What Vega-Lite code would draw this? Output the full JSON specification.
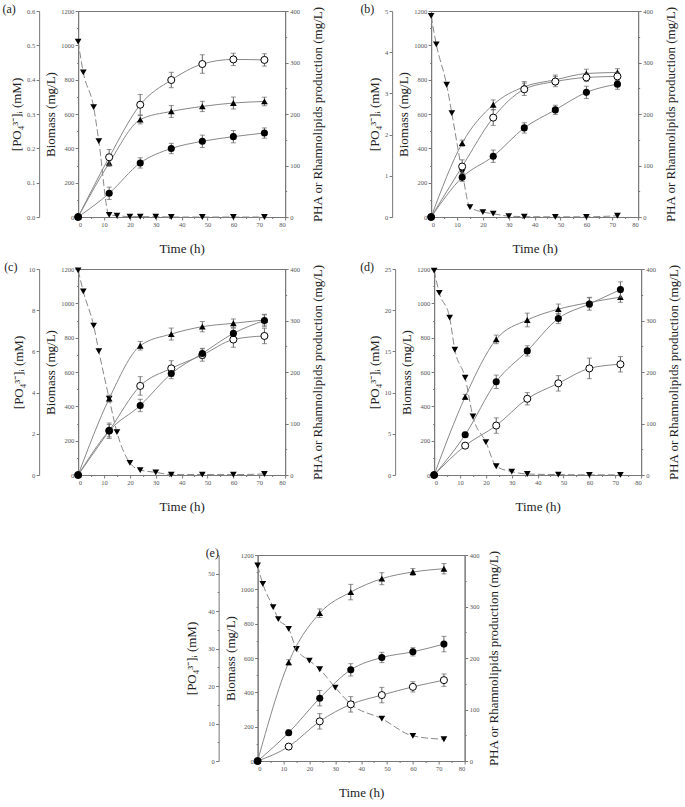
{
  "$schema": "https://vega.github.io/schema/vega-lite/v6.json",
  "padding": {"left": 2, "top": 2, "right": 2, "bottom": 2},
  "config": {
    "font": "Liberation Serif",
    "view": {"stroke": "#777", "strokeWidth": 1},
    "axis": {"labelFont": "Liberation Serif", "labelFontSize": 6.5, "labelColor": "#555", "titleFont": "Liberation Serif", "titleFontSize": 13, "titleFontWeight": "normal", "titleColor": "#222", "domainColor": "#777", "tickColor": "#777", "grid": false, "labelPadding": 1.5},
    "title": {"font": "Liberation Serif", "fontSize": 12, "fontWeight": "normal", "color": "#222", "anchor": "start", "frame": "bounds", "offset": -10}
  },
  "data": {"values": [
    {"p":"a","s":"PO4","t":0,"v":0.511},{"p":"a","s":"PO4","t":2,"v":0.421},{"p":"a","s":"PO4","t":6,"v":0.32},{"p":"a","s":"PO4","t":8,"v":0.221},{"p":"a","s":"PO4","t":12,"v":0.006},{"p":"a","s":"PO4","t":15,"v":0.004},{"p":"a","s":"PO4","t":20,"v":0.001},{"p":"a","s":"PO4","t":24,"v":0.001},{"p":"a","s":"PO4","t":30,"v":0.001},{"p":"a","s":"PO4","t":36,"v":0},{"p":"a","s":"PO4","t":48,"v":0},{"p":"a","s":"PO4","t":60,"v":0},{"p":"a","s":"PO4","t":72,"v":0},
    {"p":"a","s":"B","t":0,"v":0,"e":0},{"p":"a","s":"B","t":12,"v":315,"e":20},{"p":"a","s":"B","t":24,"v":567,"e":25},{"p":"a","s":"B","t":36,"v":615,"e":35},{"p":"a","s":"B","t":48,"v":644,"e":30},{"p":"a","s":"B","t":60,"v":664,"e":35},{"p":"a","s":"B","t":72,"v":673,"e":25},
    {"p":"a","s":"R","t":0,"v":0,"e":0},{"p":"a","s":"R","t":12,"v":116,"e":15},{"p":"a","s":"R","t":24,"v":218,"e":20},{"p":"a","s":"R","t":36,"v":266,"e":15},{"p":"a","s":"R","t":48,"v":297,"e":18},{"p":"a","s":"R","t":60,"v":306,"e":12},{"p":"a","s":"R","t":72,"v":305,"e":12},
    {"p":"a","s":"P","t":0,"v":0,"e":0},{"p":"a","s":"P","t":12,"v":46,"e":12},{"p":"a","s":"P","t":24,"v":105,"e":10},{"p":"a","s":"P","t":36,"v":133,"e":10},{"p":"a","s":"P","t":48,"v":147,"e":12},{"p":"a","s":"P","t":60,"v":156,"e":12},{"p":"a","s":"P","t":72,"v":163,"e":10},

    {"p":"b","s":"PO4","t":0,"v":4.88},{"p":"b","s":"PO4","t":2,"v":4.19},{"p":"b","s":"PO4","t":6,"v":3.21},{"p":"b","s":"PO4","t":8,"v":2.52},{"p":"b","s":"PO4","t":12,"v":1.09},{"p":"b","s":"PO4","t":15,"v":0.24},{"p":"b","s":"PO4","t":20,"v":0.12},{"p":"b","s":"PO4","t":24,"v":0.08},{"p":"b","s":"PO4","t":30,"v":0.02},{"p":"b","s":"PO4","t":36,"v":0.01},{"p":"b","s":"PO4","t":48,"v":0.005},{"p":"b","s":"PO4","t":60,"v":0.005},{"p":"b","s":"PO4","t":72,"v":0.03},
    {"p":"b","s":"B","t":0,"v":0,"e":0},{"p":"b","s":"B","t":12,"v":430,"e":18},{"p":"b","s":"B","t":24,"v":654,"e":28},{"p":"b","s":"B","t":36,"v":759,"e":30},{"p":"b","s":"B","t":48,"v":799,"e":28},{"p":"b","s":"B","t":60,"v":836,"e":25},{"p":"b","s":"B","t":72,"v":842,"e":22},
    {"p":"b","s":"R","t":0,"v":0,"e":0},{"p":"b","s":"R","t":12,"v":98,"e":13},{"p":"b","s":"R","t":24,"v":193,"e":15},{"p":"b","s":"R","t":36,"v":248,"e":12},{"p":"b","s":"R","t":48,"v":263,"e":10},{"p":"b","s":"R","t":60,"v":271,"e":8},{"p":"b","s":"R","t":72,"v":273,"e":8},
    {"p":"b","s":"P","t":0,"v":0,"e":0},{"p":"b","s":"P","t":12,"v":77,"e":8},{"p":"b","s":"P","t":24,"v":118,"e":12},{"p":"b","s":"P","t":36,"v":173,"e":10},{"p":"b","s":"P","t":48,"v":208,"e":9},{"p":"b","s":"P","t":60,"v":242,"e":12},{"p":"b","s":"P","t":72,"v":258,"e":10},

    {"p":"c","s":"PO4","t":0,"v":9.93},{"p":"c","s":"PO4","t":2,"v":8.91},{"p":"c","s":"PO4","t":6,"v":7.25},{"p":"c","s":"PO4","t":8,"v":6.01},{"p":"c","s":"PO4","t":12,"v":3.71},{"p":"c","s":"PO4","t":15,"v":2.08},{"p":"c","s":"PO4","t":20,"v":0.59},{"p":"c","s":"PO4","t":24,"v":0.24},{"p":"c","s":"PO4","t":30,"v":0.13},{"p":"c","s":"PO4","t":36,"v":0.02},{"p":"c","s":"PO4","t":48,"v":0.02},{"p":"c","s":"PO4","t":60,"v":0.02},{"p":"c","s":"PO4","t":72,"v":0.05},
    {"p":"c","s":"B","t":0,"v":0,"e":0},{"p":"c","s":"B","t":12,"v":445,"e":20},{"p":"c","s":"B","t":24,"v":753,"e":25},{"p":"c","s":"B","t":36,"v":821,"e":35},{"p":"c","s":"B","t":48,"v":864,"e":30},{"p":"c","s":"B","t":60,"v":884,"e":25},{"p":"c","s":"B","t":72,"v":903,"e":30},
    {"p":"c","s":"R","t":0,"v":0,"e":0},{"p":"c","s":"R","t":12,"v":86,"e":15},{"p":"c","s":"R","t":24,"v":173,"e":18},{"p":"c","s":"R","t":36,"v":207,"e":15},{"p":"c","s":"R","t":48,"v":233,"e":12},{"p":"c","s":"R","t":60,"v":263,"e":15},{"p":"c","s":"R","t":72,"v":270,"e":15},
    {"p":"c","s":"P","t":0,"v":0,"e":0},{"p":"c","s":"P","t":12,"v":86,"e":12},{"p":"c","s":"P","t":24,"v":135,"e":12},{"p":"c","s":"P","t":36,"v":197,"e":10},{"p":"c","s":"P","t":48,"v":236,"e":10},{"p":"c","s":"P","t":60,"v":275,"e":10},{"p":"c","s":"P","t":72,"v":300,"e":12},

    {"p":"d","s":"PO4","t":0,"v":24.8},{"p":"d","s":"PO4","t":2,"v":22.1},{"p":"d","s":"PO4","t":6,"v":19.1},{"p":"d","s":"PO4","t":8,"v":15.2},{"p":"d","s":"PO4","t":12,"v":11.8},{"p":"d","s":"PO4","t":15,"v":7.1},{"p":"d","s":"PO4","t":20,"v":4.0},{"p":"d","s":"PO4","t":24,"v":1.06},{"p":"d","s":"PO4","t":30,"v":0.41},{"p":"d","s":"PO4","t":36,"v":0.12},{"p":"d","s":"PO4","t":48,"v":0.05},{"p":"d","s":"PO4","t":60,"v":0.02},{"p":"d","s":"PO4","t":72,"v":0.02},
    {"p":"d","s":"B","t":0,"v":0,"e":0},{"p":"d","s":"B","t":12,"v":455,"e":15},{"p":"d","s":"B","t":24,"v":790,"e":25},{"p":"d","s":"B","t":36,"v":903,"e":40},{"p":"d","s":"B","t":48,"v":966,"e":30},{"p":"d","s":"B","t":60,"v":1005,"e":30},{"p":"d","s":"B","t":72,"v":1036,"e":30},
    {"p":"d","s":"P","t":0,"v":0,"e":0},{"p":"d","s":"P","t":12,"v":78,"e":5},{"p":"d","s":"P","t":24,"v":181,"e":13},{"p":"d","s":"P","t":36,"v":241,"e":10},{"p":"d","s":"P","t":48,"v":304,"e":10},{"p":"d","s":"P","t":60,"v":332,"e":12},{"p":"d","s":"P","t":72,"v":360,"e":15},
    {"p":"d","s":"R","t":0,"v":0,"e":0},{"p":"d","s":"R","t":12,"v":57,"e":5},{"p":"d","s":"R","t":24,"v":96,"e":15},{"p":"d","s":"R","t":36,"v":148,"e":12},{"p":"d","s":"R","t":48,"v":178,"e":15},{"p":"d","s":"R","t":60,"v":207,"e":20},{"p":"d","s":"R","t":72,"v":215,"e":15},

    {"p":"e","s":"PO4","t":0,"v":52.2},{"p":"e","s":"PO4","t":2,"v":47.3},{"p":"e","s":"PO4","t":6,"v":41.1},{"p":"e","s":"PO4","t":8,"v":37.9},{"p":"e","s":"PO4","t":12,"v":35.3},{"p":"e","s":"PO4","t":15,"v":29.9},{"p":"e","s":"PO4","t":20,"v":26.8},{"p":"e","s":"PO4","t":24,"v":24.5},{"p":"e","s":"PO4","t":30,"v":19.6},{"p":"e","s":"PO4","t":36,"v":15.2},{"p":"e","s":"PO4","t":48,"v":11.3},{"p":"e","s":"PO4","t":60,"v":6.7},{"p":"e","s":"PO4","t":72,"v":5.8},
    {"p":"e","s":"B","t":0,"v":0,"e":0},{"p":"e","s":"B","t":12,"v":575,"e":15},{"p":"e","s":"B","t":24,"v":861,"e":25},{"p":"e","s":"B","t":36,"v":984,"e":45},{"p":"e","s":"B","t":48,"v":1062,"e":35},{"p":"e","s":"B","t":60,"v":1101,"e":20},{"p":"e","s":"B","t":72,"v":1120,"e":30},
    {"p":"e","s":"P","t":0,"v":0,"e":0},{"p":"e","s":"P","t":12,"v":55,"e":5},{"p":"e","s":"P","t":24,"v":122,"e":15},{"p":"e","s":"P","t":36,"v":177,"e":12},{"p":"e","s":"P","t":48,"v":201,"e":10},{"p":"e","s":"P","t":60,"v":212,"e":8},{"p":"e","s":"P","t":72,"v":227,"e":15},
    {"p":"e","s":"R","t":0,"v":0,"e":0},{"p":"e","s":"R","t":12,"v":28,"e":5},{"p":"e","s":"R","t":24,"v":77,"e":15},{"p":"e","s":"R","t":36,"v":110,"e":15},{"p":"e","s":"R","t":48,"v":128,"e":15},{"p":"e","s":"R","t":60,"v":144,"e":10},{"p":"e","s":"R","t":72,"v":157,"e":12}
  ]},
  "spacing": 32,
  "center": true,
  "vconcat": [
    {
      "spacing": 4,
      "vconcat": [
        {
          "spacing": 34,
          "hconcat": [
            {
              "width": 207, "height": 206,
              "title": {"text": "(a)", "dx": -8},
              "transform": [{"filter": "datum.p === 'a'"}],
              "encoding": {"x": {"field": "t", "type": "quantitative", "scale": {"domain": [0, 80], "nice": false}, "axis": {"title": "Time (h)", "values": [0,5,10,15,20,25,30,35,40,45,50,55,60,65,70,75,80], "labelExpr": "datum.value % 10 === 0 ? datum.label : ''", "tickSize": {"condition": {"test": "datum.value % 10 === 0", "value": 3}, "value": 1.5}, "titlePadding": 14}}},
              "layer": [
                {
                  "transform": [{"filter": "datum.s === 'PO4'"}],
                  "encoding": {"y": {"field": "v", "type": "quantitative", "scale": {"domain": [0, 0.6], "nice": false}, "axis": {"orient": "left", "offset": 39, "title": "[PO₄³⁻]ᵢ (mM)", "values": [0,0.1,0.2,0.3,0.4,0.5,0.6], "format": ".1f", "tickSize": 3, "titlePadding": 3}}},
                  "layer": [
                    {"mark": {"type": "line", "interpolate": "monotone", "color": "#888", "strokeWidth": 1, "strokeDash": [7, 3]}},
                    {"mark": {"type": "point", "shape": "triangle-down", "filled": true, "color": "#000", "opacity": 1, "size": 45}}
                  ]
                },
                {
                  "transform": [{"filter": "datum.s === 'B'"}],
                  "encoding": {"y": {"field": "v", "type": "quantitative", "scale": {"domain": [0, 1200], "nice": false}, "axis": {"orient": "left", "title": "Biomass (mg/L)", "format": "d", "values": [0,100,200,300,400,500,600,700,800,900,1000,1100,1200], "labelExpr": "datum.value % 200 === 0 ? datum.label : ''", "tickSize": {"condition": {"test": "datum.value % 200 === 0", "value": 3}, "value": 1.5}, "titlePadding": 3}}},
                  "layer": [
                    {"mark": {"type": "line", "interpolate": "monotone", "color": "#888", "strokeWidth": 1}},
                    {"transform": [{"filter": "datum.e > 0"}], "mark": {"type": "errorbar", "ticks": {"size": 5}, "color": "#666"}, "encoding": {"yError": {"field": "e"}}},
                    {"mark": {"type": "point", "shape": "triangle-up", "filled": true, "color": "#000", "opacity": 1, "size": 45}}
                  ]
                },
                {
                  "transform": [{"filter": "datum.s === 'P' || datum.s === 'R'"}],
                  "encoding": {"y": {"field": "v", "type": "quantitative", "scale": {"domain": [0, 400], "nice": false}, "axis": {"orient": "right", "title": "PHA or Rhamnolipids production (mg/L)", "titleAngle": 270, "titleBaseline": "top", "format": "d", "values": [0,50,100,150,200,250,300,350,400], "labelExpr": "datum.value % 100 === 0 ? datum.label : ''", "tickSize": {"condition": {"test": "datum.value % 100 === 0", "value": 3}, "value": 1.5}, "titlePadding": 12}}},
                  "layer": [
                    {"mark": {"type": "line", "interpolate": "monotone", "color": "#888", "strokeWidth": 1}, "encoding": {"detail": {"field": "s"}}},
                    {"transform": [{"filter": "datum.e > 0"}], "mark": {"type": "errorbar", "ticks": {"size": 5}, "color": "#666"}, "encoding": {"yError": {"field": "e"}, "detail": {"field": "s"}}},
                    {"transform": [{"filter": "datum.s === 'R'"}], "mark": {"type": "point", "shape": "circle", "fill": "#fff", "stroke": "#000", "strokeWidth": 1, "opacity": 1, "size": 50}},
                    {"transform": [{"filter": "datum.s === 'P'"}], "mark": {"type": "point", "shape": "circle", "filled": true, "color": "#000", "opacity": 1, "size": 50}}
                  ]
                }
              ],
              "resolve": {"scale": {"y": "independent"}, "axis": {"y": "independent"}}
            },
            {
              "width": 207, "height": 206,
              "title": {"text": "(b)", "dx": -8},
              "transform": [{"filter": "datum.p === 'b'"}],
              "encoding": {"x": {"field": "t", "type": "quantitative", "scale": {"domain": [0, 80], "nice": false}, "axis": {"title": "Time (h)", "values": [0,5,10,15,20,25,30,35,40,45,50,55,60,65,70,75,80], "labelExpr": "datum.value % 10 === 0 ? datum.label : ''", "tickSize": {"condition": {"test": "datum.value % 10 === 0", "value": 3}, "value": 1.5}, "titlePadding": 14}}},
              "layer": [
                {
                  "transform": [{"filter": "datum.s === 'PO4'"}],
                  "encoding": {"y": {"field": "v", "type": "quantitative", "scale": {"domain": [0, 5], "nice": false}, "axis": {"orient": "left", "offset": 39, "title": "[PO₄³⁻]ᵢ (mM)", "values": [0,1,2,3,4,5], "format": "d", "tickSize": 3, "titlePadding": 3}}},
                  "layer": [
                    {"mark": {"type": "line", "interpolate": "monotone", "color": "#888", "strokeWidth": 1, "strokeDash": [7, 3]}},
                    {"mark": {"type": "point", "shape": "triangle-down", "filled": true, "color": "#000", "opacity": 1, "size": 45}}
                  ]
                },
                {
                  "transform": [{"filter": "datum.s === 'B'"}],
                  "encoding": {"y": {"field": "v", "type": "quantitative", "scale": {"domain": [0, 1200], "nice": false}, "axis": {"orient": "left", "title": "Biomass (mg/L)", "format": "d", "values": [0,100,200,300,400,500,600,700,800,900,1000,1100,1200], "labelExpr": "datum.value % 200 === 0 ? datum.label : ''", "tickSize": {"condition": {"test": "datum.value % 200 === 0", "value": 3}, "value": 1.5}, "titlePadding": 3}}},
                  "layer": [
                    {"mark": {"type": "line", "interpolate": "monotone", "color": "#888", "strokeWidth": 1}},
                    {"transform": [{"filter": "datum.e > 0"}], "mark": {"type": "errorbar", "ticks": {"size": 5}, "color": "#666"}, "encoding": {"yError": {"field": "e"}}},
                    {"mark": {"type": "point", "shape": "triangle-up", "filled": true, "color": "#000", "opacity": 1, "size": 45}}
                  ]
                },
                {
                  "transform": [{"filter": "datum.s === 'P' || datum.s === 'R'"}],
                  "encoding": {"y": {"field": "v", "type": "quantitative", "scale": {"domain": [0, 400], "nice": false}, "axis": {"orient": "right", "title": "PHA or Rhamnolipids production (mg/L)", "titleAngle": 270, "titleBaseline": "top", "format": "d", "values": [0,50,100,150,200,250,300,350,400], "labelExpr": "datum.value % 100 === 0 ? datum.label : ''", "tickSize": {"condition": {"test": "datum.value % 100 === 0", "value": 3}, "value": 1.5}, "titlePadding": 12}}},
                  "layer": [
                    {"mark": {"type": "line", "interpolate": "monotone", "color": "#888", "strokeWidth": 1}, "encoding": {"detail": {"field": "s"}}},
                    {"transform": [{"filter": "datum.e > 0"}], "mark": {"type": "errorbar", "ticks": {"size": 5}, "color": "#666"}, "encoding": {"yError": {"field": "e"}, "detail": {"field": "s"}}},
                    {"transform": [{"filter": "datum.s === 'R'"}], "mark": {"type": "point", "shape": "circle", "fill": "#fff", "stroke": "#000", "strokeWidth": 1, "opacity": 1, "size": 50}},
                    {"transform": [{"filter": "datum.s === 'P'"}], "mark": {"type": "point", "shape": "circle", "filled": true, "color": "#000", "opacity": 1, "size": 50}}
                  ]
                }
              ],
              "resolve": {"scale": {"y": "independent"}, "axis": {"y": "independent"}}
            }
          ]
        },
        {
          "spacing": 34,
          "hconcat": [
            {
              "width": 207, "height": 206,
              "title": {"text": "(c)", "dx": -8},
              "transform": [{"filter": "datum.p === 'c'"}],
              "encoding": {"x": {"field": "t", "type": "quantitative", "scale": {"domain": [0, 80], "nice": false}, "axis": {"title": "Time (h)", "values": [0,5,10,15,20,25,30,35,40,45,50,55,60,65,70,75,80], "labelExpr": "datum.value % 10 === 0 ? datum.label : ''", "tickSize": {"condition": {"test": "datum.value % 10 === 0", "value": 3}, "value": 1.5}, "titlePadding": 14}}},
              "layer": [
                {
                  "transform": [{"filter": "datum.s === 'PO4'"}],
                  "encoding": {"y": {"field": "v", "type": "quantitative", "scale": {"domain": [0, 10], "nice": false}, "axis": {"orient": "left", "offset": 39, "title": "[PO₄³⁻]ᵢ (mM)", "values": [0,2,4,6,8,10], "format": "d", "tickSize": 3, "titlePadding": 3}}},
                  "layer": [
                    {"mark": {"type": "line", "interpolate": "monotone", "color": "#888", "strokeWidth": 1, "strokeDash": [7, 3]}},
                    {"mark": {"type": "point", "shape": "triangle-down", "filled": true, "color": "#000", "opacity": 1, "size": 45}}
                  ]
                },
                {
                  "transform": [{"filter": "datum.s === 'B'"}],
                  "encoding": {"y": {"field": "v", "type": "quantitative", "scale": {"domain": [0, 1200], "nice": false}, "axis": {"orient": "left", "title": "Biomass (mg/L)", "format": "d", "values": [0,100,200,300,400,500,600,700,800,900,1000,1100,1200], "labelExpr": "datum.value % 200 === 0 ? datum.label : ''", "tickSize": {"condition": {"test": "datum.value % 200 === 0", "value": 3}, "value": 1.5}, "titlePadding": 3}}},
                  "layer": [
                    {"mark": {"type": "line", "interpolate": "monotone", "color": "#888", "strokeWidth": 1}},
                    {"transform": [{"filter": "datum.e > 0"}], "mark": {"type": "errorbar", "ticks": {"size": 5}, "color": "#666"}, "encoding": {"yError": {"field": "e"}}},
                    {"mark": {"type": "point", "shape": "triangle-up", "filled": true, "color": "#000", "opacity": 1, "size": 45}}
                  ]
                },
                {
                  "transform": [{"filter": "datum.s === 'P' || datum.s === 'R'"}],
                  "encoding": {"y": {"field": "v", "type": "quantitative", "scale": {"domain": [0, 400], "nice": false}, "axis": {"orient": "right", "title": "PHA or Rhamnolipids production (mg/L)", "titleAngle": 270, "titleBaseline": "top", "format": "d", "values": [0,50,100,150,200,250,300,350,400], "labelExpr": "datum.value % 100 === 0 ? datum.label : ''", "tickSize": {"condition": {"test": "datum.value % 100 === 0", "value": 3}, "value": 1.5}, "titlePadding": 12}}},
                  "layer": [
                    {"mark": {"type": "line", "interpolate": "monotone", "color": "#888", "strokeWidth": 1}, "encoding": {"detail": {"field": "s"}}},
                    {"transform": [{"filter": "datum.e > 0"}], "mark": {"type": "errorbar", "ticks": {"size": 5}, "color": "#666"}, "encoding": {"yError": {"field": "e"}, "detail": {"field": "s"}}},
                    {"transform": [{"filter": "datum.s === 'R'"}], "mark": {"type": "point", "shape": "circle", "fill": "#fff", "stroke": "#000", "strokeWidth": 1, "opacity": 1, "size": 50}},
                    {"transform": [{"filter": "datum.s === 'P'"}], "mark": {"type": "point", "shape": "circle", "filled": true, "color": "#000", "opacity": 1, "size": 50}}
                  ]
                }
              ],
              "resolve": {"scale": {"y": "independent"}, "axis": {"y": "independent"}}
            },
            {
              "width": 207, "height": 206,
              "title": {"text": "(d)", "dx": -8},
              "transform": [{"filter": "datum.p === 'd'"}],
              "encoding": {"x": {"field": "t", "type": "quantitative", "scale": {"domain": [0, 80], "nice": false}, "axis": {"title": "Time (h)", "values": [0,5,10,15,20,25,30,35,40,45,50,55,60,65,70,75,80], "labelExpr": "datum.value % 10 === 0 ? datum.label : ''", "tickSize": {"condition": {"test": "datum.value % 10 === 0", "value": 3}, "value": 1.5}, "titlePadding": 14}}},
              "layer": [
                {
                  "transform": [{"filter": "datum.s === 'PO4'"}],
                  "encoding": {"y": {"field": "v", "type": "quantitative", "scale": {"domain": [0, 25], "nice": false}, "axis": {"orient": "left", "offset": 39, "title": "[PO₄³⁻]ᵢ (mM)", "values": [0,5,10,15,20,25], "format": "d", "tickSize": 3, "titlePadding": 3}}},
                  "layer": [
                    {"mark": {"type": "line", "interpolate": "monotone", "color": "#888", "strokeWidth": 1, "strokeDash": [7, 3]}},
                    {"mark": {"type": "point", "shape": "triangle-down", "filled": true, "color": "#000", "opacity": 1, "size": 45}}
                  ]
                },
                {
                  "transform": [{"filter": "datum.s === 'B'"}],
                  "encoding": {"y": {"field": "v", "type": "quantitative", "scale": {"domain": [0, 1200], "nice": false}, "axis": {"orient": "left", "title": "Biomass (mg/L)", "format": "d", "values": [0,100,200,300,400,500,600,700,800,900,1000,1100,1200], "labelExpr": "datum.value % 200 === 0 ? datum.label : ''", "tickSize": {"condition": {"test": "datum.value % 200 === 0", "value": 3}, "value": 1.5}, "titlePadding": 3}}},
                  "layer": [
                    {"mark": {"type": "line", "interpolate": "monotone", "color": "#888", "strokeWidth": 1}},
                    {"transform": [{"filter": "datum.e > 0"}], "mark": {"type": "errorbar", "ticks": {"size": 5}, "color": "#666"}, "encoding": {"yError": {"field": "e"}}},
                    {"mark": {"type": "point", "shape": "triangle-up", "filled": true, "color": "#000", "opacity": 1, "size": 45}}
                  ]
                },
                {
                  "transform": [{"filter": "datum.s === 'P' || datum.s === 'R'"}],
                  "encoding": {"y": {"field": "v", "type": "quantitative", "scale": {"domain": [0, 400], "nice": false}, "axis": {"orient": "right", "title": "PHA or Rhamnolipids production (mg/L)", "titleAngle": 270, "titleBaseline": "top", "format": "d", "values": [0,50,100,150,200,250,300,350,400], "labelExpr": "datum.value % 100 === 0 ? datum.label : ''", "tickSize": {"condition": {"test": "datum.value % 100 === 0", "value": 3}, "value": 1.5}, "titlePadding": 12}}},
                  "layer": [
                    {"mark": {"type": "line", "interpolate": "monotone", "color": "#888", "strokeWidth": 1}, "encoding": {"detail": {"field": "s"}}},
                    {"transform": [{"filter": "datum.e > 0"}], "mark": {"type": "errorbar", "ticks": {"size": 5}, "color": "#666"}, "encoding": {"yError": {"field": "e"}, "detail": {"field": "s"}}},
                    {"transform": [{"filter": "datum.s === 'R'"}], "mark": {"type": "point", "shape": "circle", "fill": "#fff", "stroke": "#000", "strokeWidth": 1, "opacity": 1, "size": 50}},
                    {"transform": [{"filter": "datum.s === 'P'"}], "mark": {"type": "point", "shape": "circle", "filled": true, "color": "#000", "opacity": 1, "size": 50}}
                  ]
                }
              ],
              "resolve": {"scale": {"y": "independent"}, "axis": {"y": "independent"}}
            }
          ]
        }
      ]
    },
    {
      "width": 207, "height": 206,
      "title": {"text": "(e)", "frame": "group", "dx": -52},
      "transform": [{"filter": "datum.p === 'e'"}],
      "encoding": {"x": {"field": "t", "type": "quantitative", "scale": {"domain": [0, 80], "nice": false}, "axis": {"title": "Time (h)", "values": [0,5,10,15,20,25,30,35,40,45,50,55,60,65,70,75,80], "labelExpr": "datum.value % 10 === 0 ? datum.label : ''", "tickSize": {"condition": {"test": "datum.value % 10 === 0", "value": 3}, "value": 1.5}, "titlePadding": 14}}},
      "layer": [
        {
          "transform": [{"filter": "datum.s === 'PO4'"}],
          "encoding": {"y": {"field": "v", "type": "quantitative", "scale": {"domain": [0, 55], "nice": false}, "axis": {"orient": "left", "offset": 39, "title": "[PO₄³⁻]ᵢ (mM)", "values": [0,5,10,15,20,25,30,35,40,45,50,55], "labelExpr": "datum.value % 10 === 0 ? datum.label : ''", "tickSize": {"condition": {"test": "datum.value % 10 === 0", "value": 3}, "value": 1.5}, "titlePadding": 9}}},
          "layer": [
            {"mark": {"type": "line", "interpolate": "monotone", "color": "#888", "strokeWidth": 1, "strokeDash": [7, 3]}},
            {"mark": {"type": "point", "shape": "triangle-down", "filled": true, "color": "#000", "opacity": 1, "size": 45}}
          ]
        },
        {
          "transform": [{"filter": "datum.s === 'B'"}],
          "encoding": {"y": {"field": "v", "type": "quantitative", "scale": {"domain": [0, 1200], "nice": false}, "axis": {"orient": "left", "title": "Biomass (mg/L)", "format": "d", "values": [0,100,200,300,400,500,600,700,800,900,1000,1100,1200], "labelExpr": "datum.value % 200 === 0 ? datum.label : ''", "tickSize": {"condition": {"test": "datum.value % 200 === 0", "value": 3}, "value": 1.5}, "titlePadding": 3}}},
          "layer": [
            {"mark": {"type": "line", "interpolate": "monotone", "color": "#888", "strokeWidth": 1}},
            {"transform": [{"filter": "datum.e > 0"}], "mark": {"type": "errorbar", "ticks": {"size": 5}, "color": "#666"}, "encoding": {"yError": {"field": "e"}}},
            {"mark": {"type": "point", "shape": "triangle-up", "filled": true, "color": "#000", "opacity": 1, "size": 45}}
          ]
        },
        {
          "transform": [{"filter": "datum.s === 'P' || datum.s === 'R'"}],
          "encoding": {"y": {"field": "v", "type": "quantitative", "scale": {"domain": [0, 400], "nice": false}, "axis": {"orient": "right", "title": "PHA or Rhamnolipids production (mg/L)", "titleAngle": 270, "titleBaseline": "top", "format": "d", "values": [0,50,100,150,200,250,300,350,400], "labelExpr": "datum.value % 100 === 0 ? datum.label : ''", "tickSize": {"condition": {"test": "datum.value % 100 === 0", "value": 3}, "value": 1.5}, "titlePadding": 9}}},
          "layer": [
            {"mark": {"type": "line", "interpolate": "monotone", "color": "#888", "strokeWidth": 1}, "encoding": {"detail": {"field": "s"}}},
            {"transform": [{"filter": "datum.e > 0"}], "mark": {"type": "errorbar", "ticks": {"size": 5}, "color": "#666"}, "encoding": {"yError": {"field": "e"}, "detail": {"field": "s"}}},
            {"transform": [{"filter": "datum.s === 'R'"}], "mark": {"type": "point", "shape": "circle", "fill": "#fff", "stroke": "#000", "strokeWidth": 1, "opacity": 1, "size": 50}},
            {"transform": [{"filter": "datum.s === 'P'"}], "mark": {"type": "point", "shape": "circle", "filled": true, "color": "#000", "opacity": 1, "size": 50}}
          ]
        }
      ],
      "resolve": {"scale": {"y": "independent"}, "axis": {"y": "independent"}}
    }
  ]
}
